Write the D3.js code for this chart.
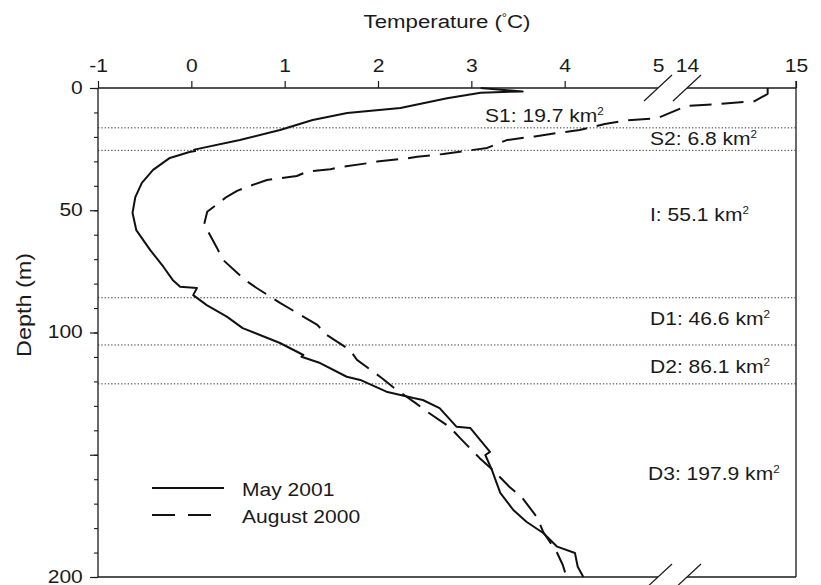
<!DOCTYPE html>
<html>
<head>
<meta charset="utf-8">
<script src="https://cdn.jsdelivr.net/npm/d3@7"></script>
<style>
  html, body { margin: 0; padding: 0; background: #fff; }
  svg { display: block; font-family: "Liberation Sans", Arial, Helvetica, sans-serif; }
</style>
</head>
<body>
<svg id="chart" width="821" height="585"></svg>
<script>
// Temperature profiles (depth in m, temperature in °C)
const mayDepth = [0, 0.8, 1.4, 1.9, 4.2, 8.2, 10.2, 13.1, 17.2, 21.3, 24.9, 25.2, 25.8, 26.2,
  28.6, 33.5, 38.8, 44.6, 51.1, 58.1, 66.3, 73.1, 78.5, 81.3, 81.8, 84.7, 88.8, 93.5, 98.2,
  104.3, 109.2, 109.9, 112.5, 118.1, 119.4, 124.2, 126.8, 127.6, 130.9, 138.5, 139.1, 148.8,
  150.1, 156.2, 165.6, 172.6, 177.4, 182.0, 187.6, 190.2, 195.8, 200];
const mayTemp = [3.10, 3.35, 3.55, 3.10, 2.74, 2.24, 1.67, 1.30, 0.95, 0.52, 0.07, 0.03, 0.04, -0.02,
  -0.23, -0.41, -0.53, -0.60, -0.63, -0.59, -0.44, -0.30, -0.20, -0.12, 0.06, 0.02, 0.165, 0.38, 0.55,
  0.95, 1.20, 1.18, 1.38, 1.665, 1.81, 2.09, 2.38, 2.48, 2.66, 2.84, 2.99, 3.20,
  3.15, 3.22, 3.31, 3.45, 3.59, 3.77, 3.92, 4.11, 4.14, 4.20];

const augDepth = [0, 2.4, 5.4, 6.5, 7.3, 12.4, 13.2, 14.7, 17.2, 18.4, 19.8, 21.3, 24.5, 25.1,
  27.0, 28.1, 28.8, 30.1, 30.8, 32.2, 33.2, 34.2, 36.0, 37.3, 37.6, 40.4, 42.1, 44.5, 50.6,
  56.0, 60.1, 65.4, 70.3, 78.5, 81.8, 87.9, 90.8, 96.9, 101.0, 107.2, 111.2, 118.6, 122.3,
  128.8, 132.5, 138.7, 143.2, 151.4, 156.2, 163.2, 167.3, 175.9, 181.6, 190.2, 195.1, 200];
const augTemp = [14.74, 14.74, 14.62, 14.30, 14.0, 4.99, 4.68, 4.43, 4.16, 3.92, 3.68, 3.38, 3.17, 3.06,
  2.70, 2.42, 2.31, 1.99, 1.88, 1.63, 1.49, 1.24, 1.13, 0.875, 0.81, 0.60, 0.49, 0.38, 0.17,
  0.136, 0.20, 0.275, 0.34, 0.575, 0.70, 0.95, 1.08, 1.35, 1.45, 1.70, 1.775, 2.04, 2.16,
  2.40, 2.53, 2.77, 2.88, 3.09, 3.23, 3.41, 3.54, 3.71, 3.77, 3.92, 3.98, 4.02];

// Axis ticks
const tempTicks = [-1, 0, 1, 2, 3, 4, 5, 14, 15];
const depthMajor = [0, 50, 100, 150, 200];
const depthLabelled = [0, 50, 100, 200];
const depthMinor = d3.range(0, 201, 10);

// Layers: boundaries (m), names, areas (km²)
const layerBounds = [16.3, 25.5, 85.8, 105.1, 121];
const layerNames = ["S1", "S2", "I", "D1", "D2", "D3"];
const layerAreas = [19.7, 6.8, 55.1, 46.6, 86.1, 197.9];

const seriesNames = ["May 2001", "August 2000"];

// ---- layout ----
const svg = d3.select("#chart");
const ink = "#1a1a1a";
const sx = 1.17;               // horizontal widening of lettering
const L = 98, R = 796, T = 88, B = 577;

const x = d3.scaleLinear().domain([-1, 5, 14, 15]).range([L, 658, 687, R]);
const y = d3.scaleLinear().domain([0, 200]).range([T, B]);

const g = svg.append("g");

// layer boundaries
g.selectAll("line.bound").data(layerBounds).join("line")
  .attr("x1", L).attr("x2", R)
  .attr("y1", d => y(d)).attr("y2", d => y(d))
  .attr("stroke", "#333").attr("stroke-width", 1)
  .attr("stroke-dasharray", "1.3,2");

// top axis
const topAxis = g.append("g").attr("transform", `translate(0,${T})`)
  .call(d3.axisTop(x).tickValues(tempTicks).tickSize(7).tickPadding(9).tickFormat(d => String(d)));
topAxis.select(".domain").remove();
topAxis.selectAll(".tick line").attr("stroke", ink).attr("stroke-width", 1.2)
  .attr("opacity", d => (d === 5 || d === 14) ? 0 : 1);
topAxis.selectAll(".tick text").attr("fill", ink).attr("font-size", 18)
  .attr("font-family", "Liberation Sans, Arial, sans-serif")
  .attr("transform", `scale(${sx},1)`);

// left axis: minor then major ticks
const minorAxis = g.append("g").attr("transform", `translate(${L},0)`)
  .call(d3.axisLeft(y).tickValues(depthMinor).tickSize(4).tickFormat(""));
minorAxis.select(".domain").remove();
minorAxis.selectAll(".tick line").attr("stroke", ink).attr("stroke-width", 1.1);

const leftAxis = g.append("g").attr("transform", `translate(${L},0)`)
  .call(d3.axisLeft(y).tickValues(depthMajor).tickSize(8).tickPadding(5)
    .tickFormat(d => depthLabelled.includes(d) ? String(d) : ""));
leftAxis.select(".domain").remove();
leftAxis.selectAll(".tick line").attr("stroke", ink).attr("stroke-width", 1.2);
leftAxis.selectAll(".tick text").attr("fill", ink).attr("font-size", 18)
  .attr("font-family", "Liberation Sans, Arial, sans-serif")
  .attr("dy", "0.28em")
  .attr("transform", `scale(${sx},1)`);

// frame with axis breaks at 5 | 14
const b1 = x(5), b2 = x(14);
const frame = [
  [[L, T], [b1, T]], [[b2, T], [R, T]],
  [[L, B], [b1, B]], [[b2, B], [R, B]],
  [[L, T], [L, B]], [[R, T - 7], [R, B]]
];
g.selectAll("line.frame").data(frame).join("line")
  .attr("x1", d => d[0][0]).attr("y1", d => d[0][1])
  .attr("x2", d => d[1][0]).attr("y2", d => d[1][1])
  .attr("stroke", ink).attr("stroke-width", 1.3);

const slashes = [];
[T, B].forEach(yy => [b1, b2].forEach(xx => slashes.push([xx, yy])));
g.selectAll("line.slash").data(slashes).join("line")
  .attr("x1", d => d[0] - 14).attr("y1", d => d[1] + 13)
  .attr("x2", d => d[0] + 14).attr("y2", d => d[1] - 13)
  .attr("stroke", ink).attr("stroke-width", 1.2);

// profiles
const line = d3.line().x(d => x(d[1])).y(d => y(d[0]));
const may = mayDepth.map((d, i) => [d, mayTemp[i]]);
const aug = augDepth.map((d, i) => [d, augTemp[i]]);

g.append("path").datum(may).attr("d", line)
  .attr("fill", "none").attr("stroke", "#111").attr("stroke-width", 2)
  .attr("stroke-linejoin", "round");
g.append("path").datum(aug).attr("d", line)
  .attr("fill", "none").attr("stroke", "#111").attr("stroke-width", 2)
  .attr("stroke-dasharray", "22,10").attr("stroke-linejoin", "round");

// text helper with horizontal widening
function label(parent, px, py, size, anchor, rot) {
  const t = parent.append("text")
    .attr("transform", `translate(${px},${py})` + (rot ? ` rotate(${rot})` : "") + ` scale(${sx},1)`)
    .attr("font-size", size).attr("fill", ink).attr("text-anchor", anchor || "start");
  return t;
}

// layer labels
const labelX = [485, 650, 650, 650, 650, 648];
const labelDepth = [13.8, 23.3, 54.3, 96.9, 116.7, 160.3];
layerNames.forEach((n, i) => {
  const t = label(g, labelX[i], y(labelDepth[i]), 18, "start");
  t.append("tspan").text(`${n}: ${layerAreas[i]} km`);
  t.append("tspan").text("2").attr("font-size", 10).attr("dy", -7);
});

// axis titles
const tt = label(g, 447, 28, 19, "middle");
tt.append("tspan").text("Temperature (");
tt.append("tspan").text("°").attr("font-size", 11).attr("dy", -7);
tt.append("tspan").text("C)").attr("dy", 7);
label(g, 31, 305, 20, "middle", -90).text("Depth (m)");

// legend
const legY = [488, 515];
const legDash = [null, "23,13"];
seriesNames.forEach((s, i) => {
  g.append("line").attr("x1", 152).attr("x2", 224)
    .attr("y1", legY[i]).attr("y2", legY[i])
    .attr("stroke", "#111").attr("stroke-width", 2)
    .attr("stroke-dasharray", legDash[i]);
  label(g, 242, legY[i] + 8, 18, "start").text(s);
});
</script>
</body>
</html>
